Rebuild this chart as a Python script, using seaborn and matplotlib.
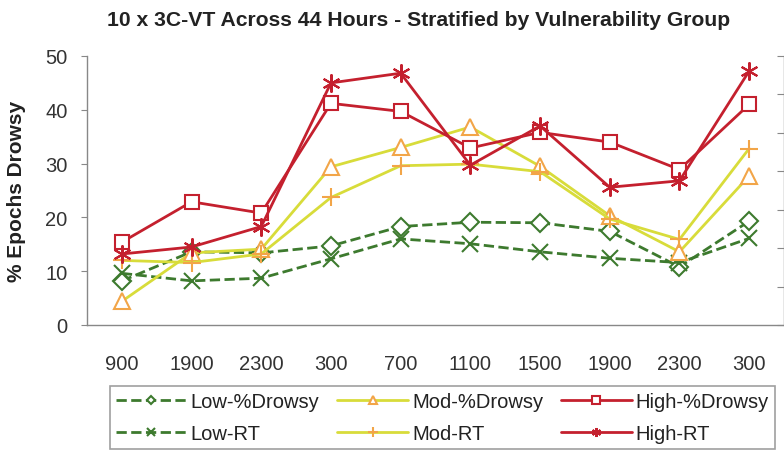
import matplotlib
matplotlib.use("Agg")
import matplotlib.pyplot as plt
import seaborn as sns
import pandas as pd
import numpy as np

hours = ["900", "1900", "2300", "300", "700", "1100", "1500", "1900", "2300", "300"]
low_drowsy = [8.2, 13.6, 13.4, 14.7, 18.3, 19.1, 19.0, 17.4, 10.8, 19.3]
low_rt = [9.6, 8.2, 8.7, 12.3, 16.0, 15.1, 13.6, 12.4, 11.6, 16.1]
mod_drowsy = [4.4, 13.4, 14.1, 29.4, 33.0, 36.8, 29.5, 20.3, 13.6, 27.7]
mod_rt = [12.0, 11.6, 13.2, 23.7, 29.6, 29.9, 28.5, 19.7, 15.9, 32.8]
high_drowsy = [15.4, 22.9, 20.8, 41.2, 39.7, 32.9, 35.8, 34.0, 28.9, 41.0]
high_rt = [13.2, 14.5, 18.3, 45.0, 46.8, 29.7, 37.0, 25.6, 26.8, 47.2]

sns.set_style("white")
plt.rcParams["font.family"] = ["Liberation Sans", "DejaVu Sans"]

green = "#3d7a2e"
yellow = "#d8dc3a"
orange = "#f2a548"
red = "#c4202e"

series = [
    ("Low-%Drowsy", low_drowsy, green, "--", "D", green, 9),
    ("Low-RT", low_rt, green, "--", "x", green, 11),
    ("Mod-%Drowsy", mod_drowsy, yellow, "-", "^", orange, 12),
    ("Mod-RT", mod_rt, yellow, "-", "+", orange, 13),
    ("High-%Drowsy", high_drowsy, red, "-", "s", red, 10.5),
    ("High-RT", high_rt, red, "-", (6, 2, 0), red, 13),
]

fig = plt.figure(figsize=(7.84, 4.52), dpi=100)
ax = fig.add_axes([0.111, 0.2788, 0.889, 0.5951])

x = np.arange(len(hours))
handles = []
for name, vals, lc, ls, mk, mc, ms in series:
    df = pd.DataFrame({"x": x, "y": vals})
    sns.lineplot(data=df, x="x", y="y", ax=ax, color=lc, linestyle=ls, linewidth=2,
                 marker=mk, markersize=ms, markerfacecolor="white" if mk in ("D", "^", "s") else mc,
                 markeredgecolor=mc, markeredgewidth=1.5, label=name, legend=False)
    handles.append(ax.lines[-1])

tick_fs = 14.5
ax.set_xlim(-0.5, 9.5)
ax.set_ylim(0, 50)
ax.set_xticks(x)
ax.set_xticklabels(hours, fontsize=tick_fs, color="#333333")
ax.set_xticks(np.arange(-0.5, 10, 1), minor=True)
ax.tick_params(axis="x", which="major", length=0, pad=21)
ax.tick_params(axis="x", which="minor", length=5, color="#888888", direction="out")
ax.set_yticks([0, 10, 20, 30, 40, 50])
ax.tick_params(axis="y", labelsize=tick_fs, labelcolor="#333333", length=4, color="#888888",
               direction="out", left=True, pad=10)
ax.set_xlabel("")
ax.set_ylabel("% Epochs Drowsy", fontsize=15, fontweight="bold", color="#222222")
ax.yaxis.set_label_coords(-0.087, 0.5)
for s in ["left", "bottom", "right"]:
    ax.spines[s].set_color("#888888")
    ax.spines[s].set_linewidth(1)
ax.spines["top"].set_visible(False)

ax2 = ax.twinx()
ax2.set_ylim(0, 7)
ax2.set_yticks(range(8))
ax2.set_yticklabels([])
ax2.tick_params(axis="y", length=5, color="#888888", direction="in", right=True)
for s in ax2.spines.values():
    s.set_visible(False)

fig.text(0.534, 0.954, "10 x 3C-VT Across 44 Hours - Stratified by Vulnerability Group",
         ha="center", va="center", fontsize=15.2, fontweight="bold", color="#222222")

order = [0, 1, 2, 3, 4, 5]
leg = fig.legend([handles[i] for i in order], [series[i][0] for i in order],
                 ncol=3, loc="lower left", bbox_to_anchor=(0.1403, 0.004),
                 fontsize=14.5, frameon=True, fancybox=False, edgecolor="#888888",
                 handlelength=3.5, columnspacing=0.9, handletextpad=0.2,
                 borderpad=0.3, labelspacing=0.65, markerscale=0.5, borderaxespad=0.0)
leg.get_frame().set_linewidth(1.2)
for t in leg.get_texts():
    t.set_color("#222222")

fig.savefig("out.png", dpi=100)
